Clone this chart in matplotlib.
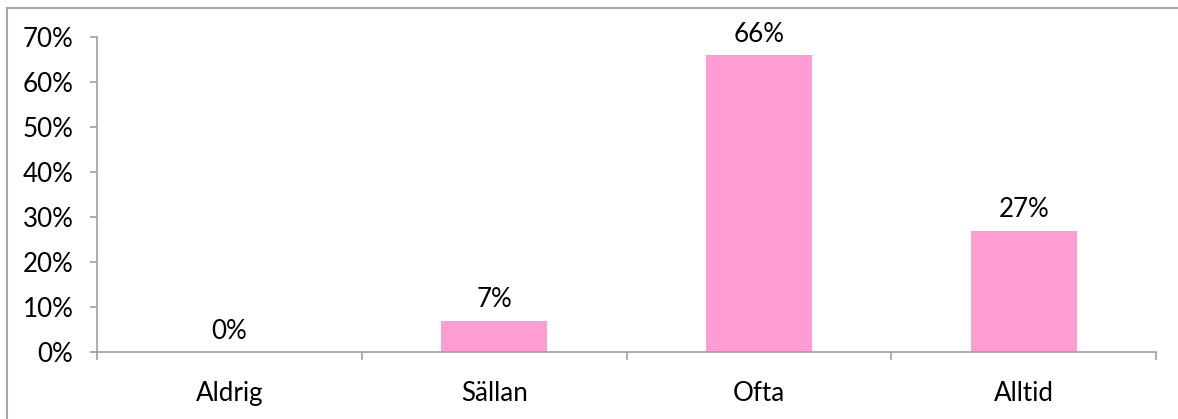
import matplotlib.pyplot as plt
from matplotlib.patches import Rectangle
from matplotlib.ticker import FuncFormatter, FixedLocator

categories = ['Aldrig', 'Sällan', 'Ofta', 'Alltid']
shares = [0, 7, 66, 27]
y_ticks = [0, 10, 20, 30, 40, 50, 60, 70]

plt.rcParams['font.family'] = ['Lato', 'DejaVu Sans']
FS = 18.7

W, H = 1178, 419
fig = plt.figure(figsize=(W / 100, H / 100), dpi=100)

# frame around the chart area
fig.patches.append(Rectangle((7 / W, -0.1), 1.2, 1.1 - 8 / H, transform=fig.transFigure,
                             fill=False, edgecolor='#a6a6a6', linewidth=1.5, zorder=0))

ax = fig.add_axes([97 / W, (H - 352) / H, (1156 - 97) / W, (352 - 37) / H])

x = range(len(categories))
ax.bar(x, shares, width=0.4, color='#ff9dd2', edgecolor='none', zorder=2)
for xi, v in zip(x, shares):
    ax.annotate(f'{v}%', (xi, v), xytext=(0, 6), textcoords='offset points',
                ha='center', va='bottom', fontsize=FS, color='black')

ax.set_xlim(-0.5, len(categories) - 0.5)
ax.set_ylim(0, 70)
ax.set_yticks(y_ticks)
ax.yaxis.set_major_formatter(FuncFormatter(lambda v, _: f'{v:.0f}%'))

# category names centred, tick marks between categories
ax.xaxis.set_major_locator(FixedLocator([i - 0.5 for i in range(len(categories) + 1)]))
ax.xaxis.set_minor_locator(FixedLocator(list(x)))
ax.set_xticklabels([])
ax.set_xticklabels(categories, minor=True)
ax.tick_params(axis='x', which='minor', length=0, pad=21, labelsize=FS)
ax.tick_params(axis='x', which='major', length=6, width=1.2, color='#a0a0a0', direction='out')
ax.tick_params(axis='y', length=5, width=1.2, color='#a0a0a0', pad=12, labelsize=FS)

for s in ['top', 'right']:
    ax.spines[s].set_visible(False)
for s in ['left', 'bottom']:
    ax.spines[s].set_color('#a0a0a0')
    ax.spines[s].set_linewidth(1.2)

fig.savefig('out.png', dpi=100)
